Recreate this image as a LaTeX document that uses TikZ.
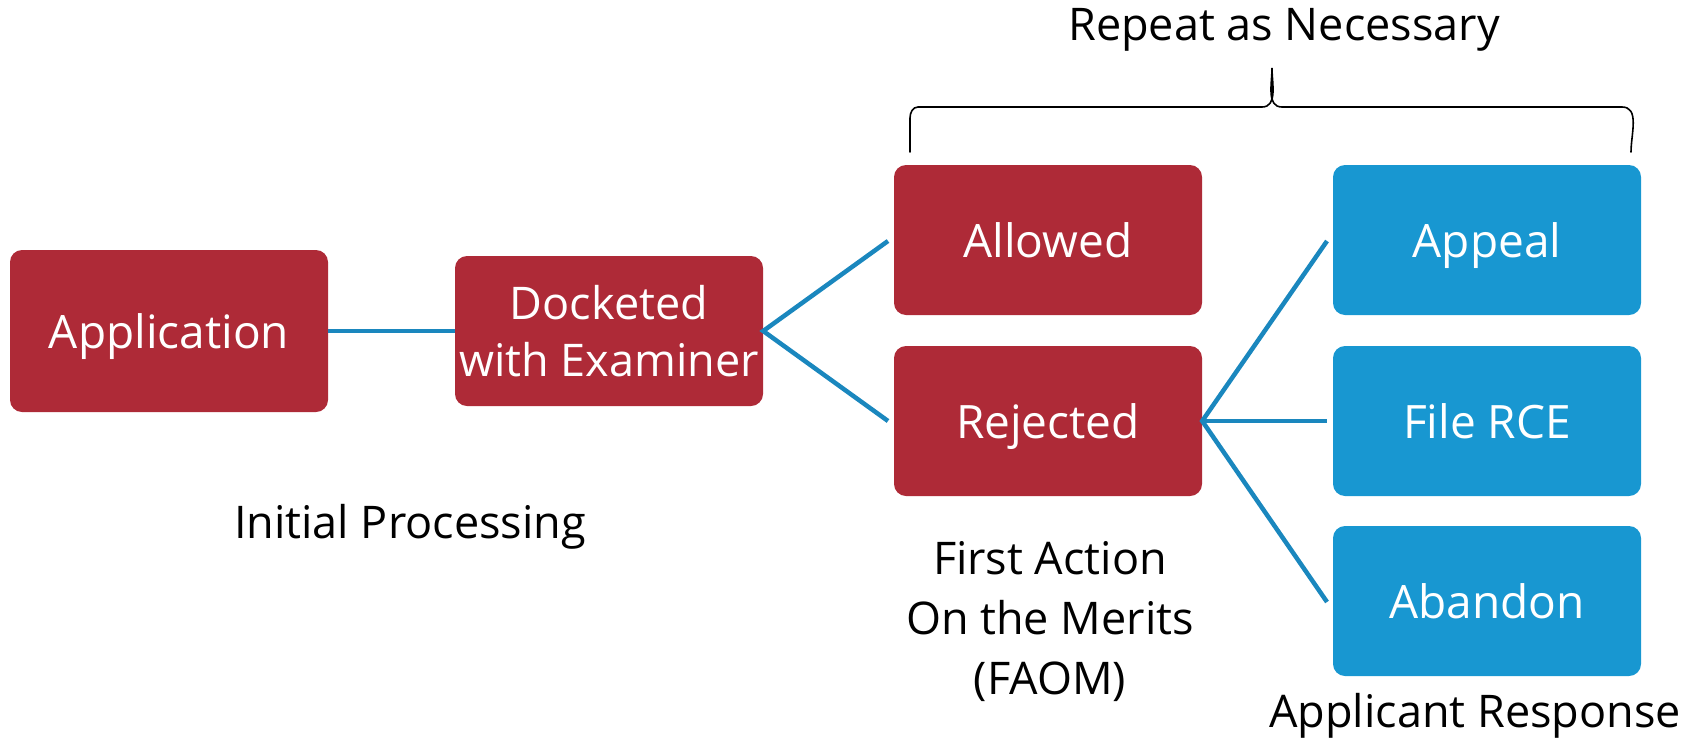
\documentclass[tikz,border=0pt]{standalone}
\usepackage{fontspec}
\setmainfont{Open Sans}
\definecolor{boxred}{RGB}{174,42,55}
\definecolor{boxblue}{RGB}{24,151,209}
\definecolor{linkblue}{RGB}{26,135,190}
\tikzset{
  redbox/.style={fill=boxred, rounded corners=12pt, text=white, align=center,
    minimum width=308pt, minimum height=150pt, inner sep=0pt,
    font=\fontsize{46}{57}\selectfont},
  bluebox/.style={redbox, fill=boxblue},
  oneline/.style={text depth=0pt},
  link/.style={draw=linkblue, line width=4.5pt},
  caption/.style={align=center, text=black, font=\fontsize{45}{60}\selectfont},
}
\begin{document}
\begin{tikzpicture}[x=1pt,y=-1pt]
\useasboundingbox (0,0) rectangle (1695,742);
\node[redbox, oneline, minimum width=318pt, minimum height=162pt] (app) at (169,331) {Application};
\node[redbox, font=\fontsize{45}{57}\selectfont] (dock) at (609,331) {Docketed\\with Examiner};
\node[redbox, oneline] (allow) at (1048,240) {Allowed};
\node[redbox, oneline] (rej) at (1048,421) {Rejected};
\node[bluebox, oneline] (appeal) at (1487,240) {Appeal};
\node[bluebox, oneline] (rce) at (1487,421) {File RCE};
\node[bluebox, oneline] (aband) at (1487,601) {Abandon};
\coordinate (a1) at (888,241);
\coordinate (a2) at (888,421);
\coordinate (b1) at (1327,241);
\coordinate (b2) at (1327,421);
\coordinate (b3) at (1327,602);
\draw[link] (app.east) -- (dock.west);
\draw[link] (a1) -- (dock.east) -- (a2);
\draw[link] (b1) -- (rej.east) -- (b3);
\draw[link] (rej.east) -- (b2);
\coordinate (brL) at (910,152);
\coordinate (brR) at (1631,152);
\draw[line width=1.6pt, line cap=round]
  (brL) -- (910,118) to[out=90,in=180] (918,107) -- (1262,107)
  to[out=0,in=-90] (1272,68) to[out=-90,in=180] (1282,107) -- (1622,107)
  to[out=0,in=90] (brR);
\node[caption] (rep) at (1284,30) {Repeat as Necessary};
\node[caption] (init) at (410,527) {Initial Processing};
\node[caption] (faom) at (1050,622) {First Action\\On the Merits\\(FAOM)};
\node[caption] (resp) at (1475,716) {Applicant Response};
\end{tikzpicture}
\end{document}
